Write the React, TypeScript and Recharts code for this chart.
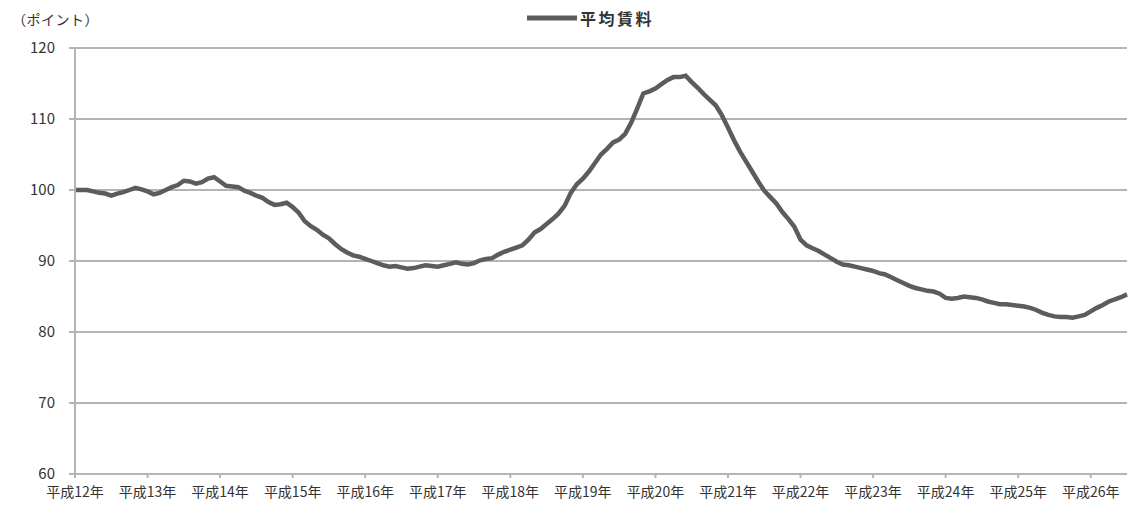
import React from "react";
import { LineChart, Line, XAxis, YAxis, CartesianGrid, Legend } from "recharts";

// Monthly average rent index (ポイント), 平成12年1月 onward
const h12 = [100.0, 100.0, 100.0, 99.8, 99.6, 99.5, 99.2, 99.5, 99.7, 100.0, 100.3, 100.1];
const h13 = [99.8, 99.4, 99.6, 100.0, 100.4, 100.7, 101.3, 101.2, 100.9, 101.1, 101.6, 101.8];
const h14 = [101.2, 100.6, 100.5, 100.4, 99.9, 99.6, 99.2, 98.9, 98.3, 97.9, 98.0, 98.2];
const h15 = [97.6, 96.8, 95.6, 94.9, 94.4, 93.7, 93.2, 92.4, 91.7, 91.2, 90.8, 90.6];
const h16 = [90.3, 90.0, 89.7, 89.4, 89.2, 89.3, 89.1, 88.9, 89.0, 89.2, 89.4, 89.3];
const h17 = [89.2, 89.4, 89.6, 89.8, 89.6, 89.5, 89.7, 90.1, 90.3, 90.4, 90.9, 91.3];
const h18 = [91.6, 91.9, 92.2, 93.0, 94.0, 94.5, 95.2, 95.9, 96.7, 97.8, 99.6, 100.8];
const h19 = [101.6, 102.6, 103.8, 105.0, 105.8, 106.7, 107.1, 107.9, 109.5, 111.5, 113.6, 113.9];
const h20 = [114.3, 114.9, 115.5, 115.9, 115.9, 116.1, 115.2, 114.4, 113.5, 112.7, 111.9, 110.5];
const h21 = [108.8, 107.0, 105.4, 104.0, 102.6, 101.2, 99.9, 99.0, 98.1, 96.9, 95.9, 94.8];
const h22 = [93.0, 92.2, 91.8, 91.4, 90.9, 90.4, 89.9, 89.5, 89.4, 89.2, 89.0, 88.8];
const h23 = [88.6, 88.3, 88.1, 87.7, 87.3, 86.9, 86.5, 86.2, 86.0, 85.8, 85.7, 85.4];
const h24 = [84.8, 84.7, 84.8, 85.0, 84.9, 84.8, 84.6, 84.3, 84.1, 83.9, 83.9, 83.8];
const h25 = [83.7, 83.6, 83.4, 83.1, 82.7, 82.4, 82.2, 82.1, 82.1, 82.0, 82.2, 82.4];
const h26 = [82.9, 83.4, 83.8, 84.3, 84.6, 84.9, 85.3];

const yearLabels = [
  "平成12年", "平成13年", "平成14年", "平成15年", "平成16年",
  "平成17年", "平成18年", "平成19年", "平成20年", "平成21年",
  "平成22年", "平成23年", "平成24年", "平成25年", "平成26年",
];
const yTicks = [60, 70, 80, 90, 100, 110, 120];
const seriesName = "平均賃料";
const unitLabel = "（ポイント）";

const values = [...h12, ...h13, ...h14, ...h15, ...h16, ...h17, ...h18, ...h19, ...h20, ...h21, ...h22, ...h23, ...h24, ...h25, ...h26];
const data = values.map((v, i) => ({ i, rent: v }));
const xTicks = yearLabels.map((_, k) => k * 12);

const font = "'Noto Sans CJK JP', 'Liberation Sans', Arial, sans-serif";

const LegendContent = () => (
  <div style={{ display: "flex", alignItems: "center", justifyContent: "flex-start", fontFamily: font, height: 20 }}>
    <svg width={50} height={10} style={{ marginRight: 3 }}>
      <line x1={0} y1={5} x2={50} y2={5} stroke="#5c5c5c" strokeWidth={5} />
    </svg>
    <span style={{ fontSize: 16, fontWeight: 700, color: "#333", letterSpacing: 2.5 }}>{seriesName}</span>
  </div>
);

export default function App() {
  return (
    <div style={{ position: "absolute", left: 0, top: 0, width: 1129, height: 508, background: "#fff" }}>
      <div style={{ position: "absolute", left: 12, top: 9, fontSize: 14, letterSpacing: 0.5, color: "#333", fontFamily: font, lineHeight: "20px" }}>
        {unitLabel}
      </div>
      <LineChart width={1129} height={508} data={data} margin={{ top: 28, right: 2, bottom: 4, left: 0 }}>
        <CartesianGrid vertical={false} stroke="#b4b4b4" strokeWidth={2} />
        <XAxis
          dataKey="i"
          type="number"
          domain={[0, 174]}
          ticks={xTicks}
          tickFormatter={(v: number) => yearLabels[v / 12]}
          interval={0}
          height={30}
          stroke="#b4b4b4"
          strokeWidth={2}
          tickSize={4}
          tickMargin={9}
          tick={{ fill: "#333", fontSize: 14, fontFamily: font }}
        />
        <YAxis
          domain={[60, 120]}
          ticks={yTicks}
          width={75}
          interval={0}
          stroke="#b4b4b4"
          strokeWidth={2}
          tickSize={6}
          tickMargin={14}
          tick={{ fill: "#333", fontSize: 15, fontFamily: font }}
        />
        <Legend
          verticalAlign="top"
          align="left"
          wrapperStyle={{ top: 8, left: 527, width: 160, height: 20 }}
          content={<LegendContent />}
        />
        <Line
          type="linear"
          dataKey="rent"
          name={seriesName}
          stroke="#5c5c5c"
          strokeWidth={4.5}
          dot={false}
          isAnimationActive={false}
        />
      </LineChart>
    </div>
  );
}
